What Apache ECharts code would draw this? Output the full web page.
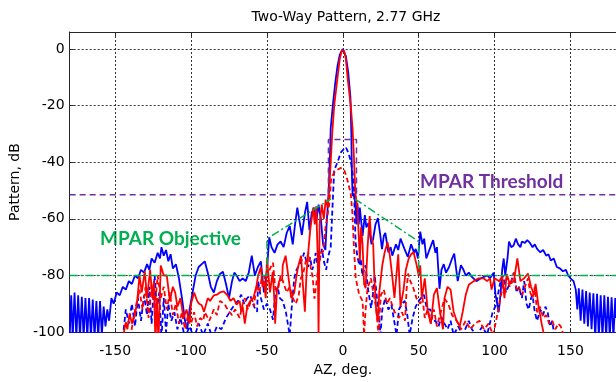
<!DOCTYPE html>
<html>
<head>
<meta charset="utf-8">
<script src="https://cdn.jsdelivr.net/npm/echarts@6/dist/echarts.min.js"></script>
<style>
html,body{margin:0;padding:0;background:#fff;}
#chart{width:616px;height:382px;}
</style>
</head>
<body>
<div id="chart"></div>
<script>
// tick positions
var azTicks = [-150, -100, -50, 0, 50, 100, 150];

// [az deg, dB]
var blueSolid = [[-180,-102],[-179,-87],[-178,-102],[-176.8,-86],[-175.6,-102],[-174.4,-87],[-173.2,-102],[-172,-87.5],[-170.8,-102],[-169.6,-88],[-168.4,-102],[-167.2,-88],[-166,-102],[-164.8,-88.5],[-163.6,-102],[-162.4,-89],[-161.2,-102],[-160,-89],[-158.8,-101],[-157.6,-91],[-156.4,-98],[-155.2,-92],[-154,-96],[-152.5,-88],
  [-151,-90],[-149,-86],[-147,-87],[-145,-84],[-143,-85],[-141,-82],[-139,-83],[-137,-80],[-135,-81],[-133,-78],[-131,-79],[-129,-76],[-127.5,-78],[-126,-74],[-124,-75.5],[-122,-72],[-120.5,-74],[-119.5,-70],[-118,-73],[-116.5,-71],[-115,-75],[-113.5,-72.5],[-112,-77.5],[-110,-76],[-108,-81],[-106,-88],[-104,-96],[-102.5,-99],[-101,-92],[-99,-86],[-97,-80],[-95,-77],[-93,-76],[-91,-75],[-89,-79],[-87,-84],[-85,-86],[-83,-82],[-81,-79.5],[-79,-78.7],[-77,-83],[-75,-88],[-73,-82],[-71.5,-79],[-70,-80],[-68,-82],[-66,-81],[-64,-82],[-62,-79],[-60,-73],[-58,-80],[-56,-77],[-54,-75],[-52,-86],[-50,-78],[-48.5,-66.5],[-47,-70],[-45,-72],[-43,-69],[-41,-68],[-39,-70],[-37,-65],[-35,-62.5],[-33,-69],[-31.5,-62],[-30,-56],[-28.5,-61],[-27,-65.7],[-25,-58],[-23.5,-54],[-22,-64],[-20.5,-58],[-19,-56],[-17.5,-61],[-16,-55],[-14.5,-60],[-13,-69],[-11.5,-71],[-10.5,-60],[-9.5,-52],[-8.5,-38],[-8,-28],[-6.6,-20],[-5,-12],[-3.5,-6],[-2,-2],[0,0],
  [2,-2.5],[3.5,-8],[5,-17],[5.6,-30],[6,-45],[6.5,-52],[7.4,-51],[8.3,-55],[9,-62],[9.6,-54.5],[10.5,-62],[11.2,-56],[12,-55.6],[13,-66],[14.5,-58.7],[15.5,-63],[16.8,-61.5],[18,-66],[18.9,-69],[20,-67],[21.5,-62],[23.1,-59.7],[24.5,-65],[25.8,-70.7],[27,-66],[28,-65],[30,-71.8],[31.5,-70],[32.6,-73],[35,-69],[36.5,-71],[38,-67],[40.6,-70.6],[42.8,-73.4],[45,-69],[47,-72],[48,-70.6],[49.5,-74],[51,-64.5],[52.5,-69],[53.6,-67],[55,-74],[57,-71],[59.5,-67.5],[61,-72],[62,-70],[63.7,-84.7],[65,-78],[66.5,-76],[68,-79],[70,-77],[72,-74],[73.4,-72.3],[75.7,-82],[77.8,-76.4],[79.5,-78],[81,-80],[83,-79],[85,-80.5],[88,-82],[91,-81],[93,-80.5],[95.2,-80],[97,-81],[99.4,-79],[100.5,-86.4],[102.7,-93],[104,-86],[105,-78],[106,-74],[107,-80],[108.5,-74],[109.5,-68],[111,-70],[112.5,-69.4],[114,-67],[115.5,-69],[117,-70],[118,-68],[120,-68.5],[121.5,-67.5],[123,-68.3],[125,-70],[126.5,-69],[128,-70.6],[130,-71.8],[132,-71],[134,-73],[135.5,-72.5],[137,-74.7],[139,-74],[141,-77],[143,-77.5],[145,-78.5],[147,-78],[148.5,-80],[150,-81],[152,-82],[153.5,-85],[154.5,-92],[155.5,-84.5],[156.7,-96],[157.9,-85],[159.1,-97],[160.3,-85.5],[161.5,-98],[162.7,-86],[163.9,-99],[165.1,-86.3],[166.3,-102],[167.5,-86.5],[168.7,-102],[169.9,-87],[171.1,-102],[172.3,-87],[173.5,-102],[174.7,-87.5],[175.9,-102],[177.1,-87.7],[178.3,-102],[179.5,-88],[180,-95]];

var blueDash = [[-145,-102],[-143,-92],[-141,-97],[-139,-90],[-137,-98],[-135,-88],[-133,-96],[-131,-87],[-129,-94],[-127.5,-84],[-126,-97],[-124,-80],[-122.5,-92],[-121,-86],[-119.5,-102],[-118,-88],[-116.5,-100],[-115,-90],[-113,-96],[-111,-93],[-109,-99],[-107,-95],[-104,-102],[-101,-98],[-98,-102],[-95,-97],[-92,-101],[-89,-97],[-86,-102],[-83,-98],[-80,-99],[-77,-95],[-73.5,-92],[-71,-90],[-69,-89],[-67,-86.8],[-65,-90],[-63,-88],[-61,-87],[-58.5,-91],[-56.5,-92.8],[-55.8,-82],[-54,-88],[-52,-92],[-50,-90],[-48,-92],[-46,-95.6],[-44.6,-86.8],[-43,-84],[-41.5,-88],[-39.6,-89],[-37.5,-93],[-35,-101],[-33.5,-90],[-32,-81],[-30.5,-78],[-29,-76.4],[-27.8,-76.4],[-26.5,-74],[-25.6,-72],[-24,-75],[-23,-77],[-21.6,-73.5],[-20.2,-78],[-19,-76],[-17.9,-72],[-16.5,-77],[-15,-74],[-13.8,-70.6],[-12.5,-75],[-11,-78],[-9.5,-73],[-8,-70],[-7,-58],[-5.7,-42.8],[-3.5,-40],[-1.3,-36.5],[0.5,-35.5],[2,-34.7],[3.5,-36.5],[5.2,-39.4],[6.5,-44],[7.3,-48.6],[8.4,-68.3],[9.5,-73],[10.8,-76.4],[11.8,-74],[12.9,-80],[14,-78],[15,-76.4],[16.5,-84.5],[18.6,-91.5],[20,-86],[21,-80],[22.5,-88],[23.7,-93.8],[24.8,-101],[26,-92],[28,-88],[30,-92],[32,-90.3],[33.5,-95],[35.4,-101],[37,-92],[39,-90],[40.8,-89],[42.5,-94],[44,-101],[46,-95],[48,-91],[50,-89],[51.5,-88],[53.4,-86.8],[55.5,-92],[57.6,-92],[59,-96],[61,-96],[63,-98],[65,-94.7],[67,-97],[69,-99],[71,-96],[73,-101],[76,-98],[79,-101],[83,-96],[85,-99],[88,-101],[92,-98],[95,-101],[98.7,-93],[101,-90.3],[103.5,-83],[105.7,-80],[107.5,-86],[109,-84],[111,-82],[112.7,-79],[114.5,-86],[116,-84],[118,-88],[119.5,-82],[121,-90],[122.5,-92],[124,-88],[125,-87],[126.5,-93],[128,-96],[130,-92],[132,-94],[133.5,-91],[135,-93],[136.5,-98],[138,-96],[139.5,-102]];

var redSolid = [[-145,-102],[-143,-96.5],[-142,-99],[-140.5,-93.4],[-139,-97],[-137,-94],[-135.5,-89],[-134,-80],[-132.5,-86],[-130.5,-78.5],[-129,-88],[-127,-78],[-125.5,-88],[-124.5,-82],[-123.5,-104],[-122.5,-88],[-121.5,-104],[-120,-76.5],[-118,-80],[-116,-80],[-114,-89],[-112,-84],[-110.5,-86],[-109,-91],[-107,-88],[-105,-95],[-103,-92],[-101,-97],[-100,-90],[-98,-86],[-96,-89],[-94.7,-90],[-93,-90.5],[-91.5,-92.8],[-89,-88],[-87.5,-89],[-85,-87],[-83,-86.8],[-81,-86],[-78.5,-85.6],[-76,-87],[-74,-89],[-72,-88],[-70,-90.3],[-68,-89],[-67,-92.8],[-66,-91],[-64.6,-97],[-63,-91],[-61,-89],[-59,-88],[-57,-84],[-55.8,-80],[-54,-77],[-53,-84],[-52,-82],[-50.8,-88],[-50,-74],[-49,-80],[-48,-86],[-46.2,-78.7],[-45,-90],[-44.6,-97],[-43.5,-86],[-42,-82],[-40,-81.5],[-39.6,-76.4],[-37.7,-73],[-36,-80],[-34,-88],[-32,-86],[-30.5,-80],[-29.5,-77],[-28.5,-75],[-27.5,-73],[-26.5,-82],[-25,-92.8],[-24,-80],[-23,-73],[-21.5,-64],[-20.5,-60],[-19.5,-56],[-18.5,-62],[-17.5,-55.6],[-16.5,-75],[-16,-101],[-15.3,-62],[-14.5,-58],[-13.9,-55],[-12.5,-60],[-11.3,-53.2],[-10,-56],[-9,-50],[-8,-40],[-7,-30],[-5.7,-20],[-3.5,-10],[-2,-3.5],[-0.7,-0.5],[0,0],[0.7,-0.5],[2,-3.5],[3.1,-10],[5.2,-20],[6.4,-28],[7.3,-38],[8,-48],[8.5,-52],[9.6,-56],[10.5,-66],[11.2,-75],[12,-63],[13,-69],[14,-83],[15,-84.5],[16.3,-70],[17.7,-59],[18.5,-66],[20,-69],[20.8,-81],[22,-92.6],[23,-96],[24,-86],[26,-76.4],[27.5,-72],[29.5,-68.3],[31,-73],[32.5,-80],[34,-87.9],[36.5,-72.5],[38,-91],[40,-85],[41.5,-78],[43.4,-74],[45,-72.5],[46.6,-71.8],[48.5,-76],[50,-80],[51,-76.4],[52,-88],[54,-81],[56,-92.8],[58,-97],[60,-86.8],[62,-84.5],[64,-92.8],[66,-99],[67,-88],[69,-84],[71,-85],[73,-92.8],[75,-96],[77,-98],[79,-92.8],[81,-86.8],[83,-83.3],[86.3,-82],[89.5,-81],[92.8,-81],[95,-82],[97,-81],[98,-85],[100,-81],[103,-82],[105,-80.4],[106.5,-88],[108,-79.5],[110,-83],[112.7,-82],[115,-74],[117,-82],[119.5,-81],[122,-79.3],[124,-84],[126,-86.8],[127,-83],[129,-91],[131,-97],[133,-102]];

var redDash = [[-140,-102],[-138,-95],[-136,-90],[-134,-85],[-132,-92],[-130,-84],[-128,-95],[-126,-83],[-124,-92],[-122,-80],[-120,-88],[-118,-84],[-116,-92],[-114,-86],[-112,-94],[-110,-90],[-108,-97],[-106,-93],[-104,-99],[-102,-94],[-100,-97],[-98,-93],[-96,-98],[-94,-95],[-92,-96],[-91,-93],[-88,-96],[-85,-92],[-83,-94],[-81,-89],[-78,-90],[-76,-92],[-73,-94],[-71,-92],[-68,-95],[-66,-90],[-64.6,-88],[-62.5,-92],[-60,-88],[-58.5,-91],[-57,-83.4],[-55,-86],[-53.5,-81],[-52,-80],[-50.5,-83],[-49,-79],[-47.5,-77],[-46,-75.5],[-44.5,-85],[-42.7,-85],[-41,-80],[-39.5,-82],[-37,-86],[-35,-84],[-33,-88],[-31,-90],[-29,-86.8],[-27.7,-81],[-26,-79],[-24,-74],[-22.5,-72],[-21,-78],[-20,-80],[-18.7,-88.2],[-17.5,-83],[-16,-76.4],[-14.5,-72],[-13,-71.6],[-11.4,-63],[-9,-55],[-7.6,-45.5],[-5.5,-43.5],[-4,-42.8],[-1.3,-42],[1,-42.8],[3,-46.3],[5.2,-51],[6.3,-58],[7.3,-70],[8.5,-81],[10.8,-86.8],[13,-89],[14,-101],[15,-92],[16.3,-84.5],[18.5,-81],[20,-86],[22,-91.5],[23.5,-101],[25,-87],[27,-85],[29,-90],[31,-88],[34,-92.8],[37,-95],[39,-93],[41,-96],[42,-85],[43,-79.3],[44.5,-82],[46.5,-84.5],[48.5,-88],[51,-90],[52.5,-88],[54,-95],[56,-92],[58,-97],[60,-92],[62,-98],[64,-94],[67,-88.2],[69.5,-90],[72,-94],[75,-96],[78,-99],[81,-96],[84,-99],[87,-97],[90,-96],[93,-99],[96,-97],[99,-101],[101,-96],[103,-90.3],[105.7,-83],[108,-81],[110,-84],[112.7,-79],[114.5,-85],[116,-84],[118,-87],[120,-84],[122,-81],[123.5,-86],[125,-88],[126.5,-84],[128,-93],[130,-91],[132,-95],[134,-94],[136,-97],[138,-96],[140,-99],[142,-97],[143.6,-98],[146,-102]];

// requirement masks
var threshold = [[-180,-51.5],[-9.5,-51.5],[-9.5,-32],[9,-32],[9,-51.5],[180,-51.5]];
var objectiveLeft = [[-180,-80],[-50,-80],[-50,-67],[-8,-53]];
var objectiveRight = [[8,-53],[50,-68],[50,-80],[180,-80]];

var chart = echarts.init(document.getElementById('chart'));
var axisFont = {fontFamily: 'DejaVu Sans', fontSize: 14, color: '#000'};
var gridLine = {show: true, lineStyle: {color: '#333', type: [2, 2], width: 1}};

function pattern(data, color, dashed) {
    return {
        type: 'line', data: data, showSymbol: false, symbol: 'none',
        clip: true, animation: false,
        lineStyle: {color: color, width: 1.8, type: dashed ? [5, 3] : 'solid'}
    };
}

var option = {
    backgroundColor: '#fff',
    animation: false,
    title: {
        text: 'Two-Way Pattern, 2.77 GHz', left: 341, top: 5, textAlign: 'center',
        textStyle: {fontFamily: 'DejaVu Sans', fontSize: 14, fontWeight: 'normal', color: '#000'}
    },
    grid: {left: 67, right: 0, top: 32, bottom: 44, containLabel: false},
    xAxis: [{
        type: 'value', min: -180, max: 180,
        name: 'AZ, deg.', nameLocation: 'middle', nameGap: 28,
        nameTextStyle: axisFont,
        axisLine: {show: true, onZero: false, lineStyle: {color: '#262626', width: 1}},
        axisTick: {show: true, inside: true, length: 4, customValues: azTicks, lineStyle: {color: '#262626'}},
        axisLabel: Object.assign({margin: 12, customValues: azTicks}, axisFont),
        splitLine: gridLine
    }, {
        type: 'value', min: -180, max: 180, position: 'top',
        axisLine: {show: true, onZero: false, lineStyle: {color: '#262626', width: 1}},
        axisTick: {show: true, inside: true, length: 4, customValues: azTicks, lineStyle: {color: '#262626'}},
        axisLabel: {show: false},
        splitLine: {show: false}
    }],
    yAxis: {
        type: 'value', min: -100, max: 6, interval: 20,
        name: 'Pattern, dB', nameLocation: 'middle', nameGap: 42,
        nameTextStyle: axisFont,
        axisLine: {show: true, onZero: false, lineStyle: {color: '#262626', width: 1}},
        axisTick: {show: true, inside: true, length: 4, lineStyle: {color: '#262626'}},
        axisLabel: Object.assign({margin: 5, showMaxLabel: false}, axisFont),
        splitLine: gridLine
    },
    graphic: [
        {type: 'text', left: 420, top: 172, style: {text: 'MPAR Threshold', fill: '#7030A0', font: 'bold 19px Lato'}},
        {type: 'text', left: 100, top: 229, style: {text: 'MPAR Objective', fill: '#00B050', font: 'bold 19px Lato'}}
    ],
    series: [
        pattern(blueSolid, '#0000FF', false),
        pattern(blueDash, '#0000FF', true),
        pattern(redSolid, '#FF0000', false),
        pattern(redDash, '#FF0000', true),
        {type: 'line', data: threshold, symbol: 'none', lineStyle: {color: '#7030A0', width: 1.5, type: [6, 4]}},
        {type: 'line', data: objectiveLeft, symbol: 'none', lineStyle: {color: '#00B050', width: 1.5, type: [8, 3, 2, 3]}},
        {type: 'line', data: objectiveRight, symbol: 'none', lineStyle: {color: '#00B050', width: 1.5, type: [8, 3, 2, 3]}}
    ]
};
chart.setOption(option);
window.onresize = chart.resize;
</script>
</body>
</html>
